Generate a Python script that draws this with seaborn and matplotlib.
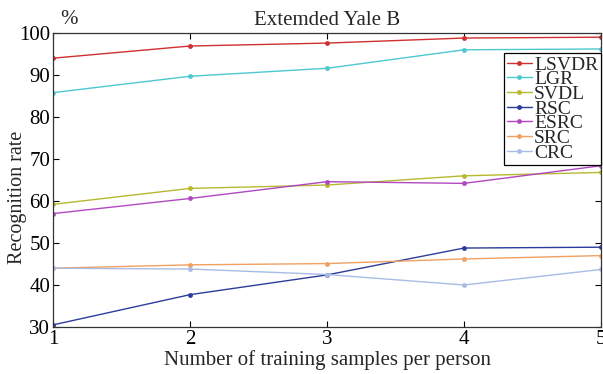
import matplotlib
matplotlib.use("Agg")
import matplotlib.pyplot as plt
import seaborn as sns
import pandas as pd

x_vals = [1, 2, 3, 4, 5]
methods = ["LSVDR", "LGR", "SVDL", "RSC", "ESRC", "SRC", "CRC"]
lsvdr = [94.0, 96.9, 97.6, 98.8, 99.0]
lgr = [85.8, 89.7, 91.6, 96.0, 96.2]
svdl = [59.2, 63.0, 63.8, 66.0, 66.8]
rsc = [30.5, 37.7, 42.4, 48.8, 49.0]
esrc = [57.0, 60.6, 64.6, 64.2, 68.4]
src = [44.0, 44.8, 45.1, 46.2, 47.0]
crc = [44.0, 43.8, 42.5, 40.0, 43.7]
colors = ["#d03030", "#4cc8d0", "#b8b830", "#2c3c9c", "#b048c0", "#f0a060", "#a8bce4"]

series = [lsvdr, lgr, svdl, rsc, esrc, src, crc]
df = pd.DataFrame({
    "x": x_vals * len(methods),
    "y": [v for s in series for v in s],
    "method": [m for m in methods for _ in x_vals],
})

sns.set_theme(style="white")
plt.rcParams["font.family"] = ["Liberation Serif", "DejaVu Serif"]

fig = plt.figure(figsize=(6.03, 3.74), dpi=100)
ax = fig.add_axes([53 / 603, 1 - 327 / 374, (601 - 53) / 603, (327 - 33) / 374])

sns.lineplot(data=df, x="x", y="y", hue="method", hue_order=methods,
             palette=colors, marker="o", markersize=3.5, markeredgewidth=0,
             linewidth=1.0, ax=ax, legend=True)

ax.set_xlim(1, 5)
ax.set_ylim(30, 100)
ax.set_xticks(x_vals)
ax.set_yticks([30, 40, 50, 60, 70, 80, 90, 100])
ax.tick_params(direction="in", length=4, width=0.8, labelsize=15, colors="black",
               top=True, right=True, bottom=True, left=True, pad=2)
for sp in ax.spines.values():
    sp.set_color("#333333")
    sp.set_linewidth(0.9)
ax.set_xlabel("Number of training samples per person", fontsize=15, labelpad=1)
ax.set_ylabel("Recognition rate", fontsize=14.5, labelpad=0)
ax.yaxis.set_label_coords(-0.047, 0.44)
ax.set_title("Extemded Yale B", fontsize=15, pad=6)
ax.text(0.013, 1.015, "%", transform=ax.transAxes, fontsize=15, ha="left", va="bottom")

leg = ax.legend(loc="upper right", bbox_to_anchor=(1.0, 0.932), fontsize=14,
                frameon=True, fancybox=False, edgecolor="black", framealpha=1,
                handlelength=1.3, handletextpad=0.1, labelspacing=-0.15,
                borderpad=0.15, borderaxespad=0.0)
leg.get_frame().set_linewidth(0.9)

fig.savefig("out.png", dpi=100)
